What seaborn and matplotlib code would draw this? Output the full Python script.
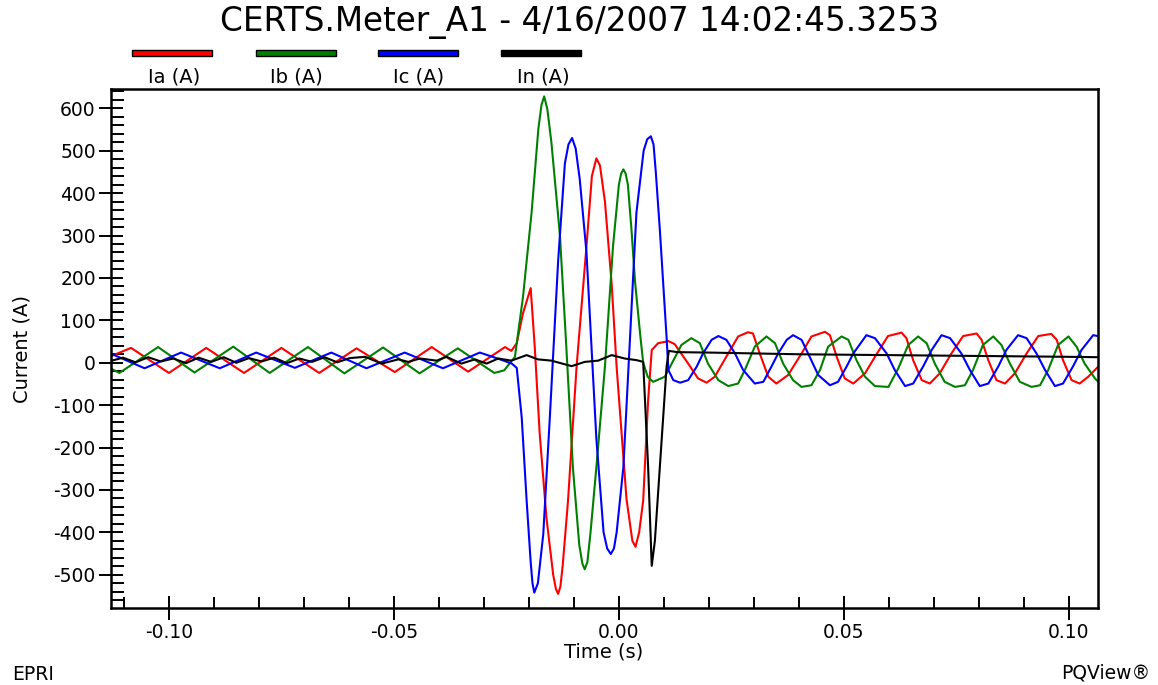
import numpy as np
import pandas as pd
import seaborn as sns
import matplotlib
matplotlib.use('Agg')
import matplotlib.pyplot as plt
from matplotlib.patches import Rectangle

title = 'CERTS.Meter_A1 - 4/16/2007 14:02:45.3253'
phases = ['Ia (A)', 'Ib (A)', 'Ic (A)', 'In (A)']
colors = ['#ff0000', '#008000', '#0000ff', '#000000']

# times in ms, currents in A
ia_t = [-113.0, -108.4, -100.0, -91.7, -83.3, -75.0, -66.6, -58.3, -49.8, -41.6, -33.5, -25.3,
        -23.9, -22.7, -21.3, -19.6, -18.7, -17.6, -16.1, -14.6, -14.0, -13.5, -13.0, -12.5, -11.3,
        -9.4, -7.2, -6.0, -5.0, -4.2, -3.1, -1.6, -0.5, 1.7, 3.0, 3.7, 4.5, 5.4, 6.5, 7.3, 8.7,
        11.0, 12.4, 15.4, 17.6, 19.5, 21.3, 24.3, 26.5, 28.7, 29.8, 31.3, 33.2, 35.0, 37.6, 40.6,
        42.8, 45.8, 46.9, 48.4, 50.2, 52.1, 54.7, 56.9, 59.8, 62.8, 63.9, 65.4, 67.3, 69.1, 71.3,
        73.9, 76.5, 79.5, 80.6, 82.1, 83.9, 85.8, 88.0, 90.6, 93.2, 96.1, 97.3, 98.7, 100.6,
        102.4, 104.3, 106.9]
ia_v = [15, 35, -24, 35, -24, 35, -24, 34, -22, 37, -21, 37,
        28, 46, 117, 176, 38, -167, -365, -500, -533, -545, -528, -480, -325,
        -9, 275, 440, 482, 465, 380, 185, -10, -322, -420, -434, -400, -325, -88, 30, 46,
        51, 44, -2, -37, -47, -33, 22, 62, 72, 69, 22, -33, -49, -29, 22,
        62, 73, 65, 14, -37, -49, -25, 14, 63, 71, 58, 6, -41, -49, -25,
        22, 63, 69, 54, 6, -41, -49, -25, 22, 63, 68, 54, 6, -41,
        -49, -33, -5]

ib_t = [-113.0, -111.0, -102.4, -94.3, -85.7, -77.6, -69.1, -61.0, -52.4, -44.3, -35.8, -27.7,
        -25.5, -23.1, -21.3, -19.4, -17.9, -17.2, -16.6, -15.9, -15.0, -13.1, -11.8, -10.2, -8.8,
        -8.1, -7.6, -7.0, -6.3, -5.0, -3.1, -1.3, 0.0, 0.5, 1.0, 1.5, 2.0, 2.8, 3.6, 4.7, 5.4,
        6.4, 7.6, 10.2, 11.4, 13.9, 16.1, 18.0, 19.8, 22.1, 24.3, 26.5, 28.0, 30.2, 32.8, 34.7,
        36.5, 38.7, 40.6, 42.8, 44.7, 46.5, 49.5, 51.0, 52.8, 54.7, 56.9, 59.9, 62.1, 64.3, 66.5,
        68.4, 70.2, 72.4, 74.7, 76.9, 78.7, 80.9, 83.2, 85.0, 86.9, 89.1, 91.7, 93.6, 95.4, 97.6,
        99.9, 101.7, 103.5, 105.8, 106.9]
ib_v = [-13, -24, 37, -23, 38, -24, 37, -25, 36, -25, 34, -24,
        -18, 14, 156, 354, 551, 608, 628, 598, 520, 300, 60, -250, -430,
        -474, -487, -470, -400, -246, -9, 275, 420, 446, 456, 446, 420, 314, 190, 70, 0,
        -33, -45, -33, -9, 42, 58, 46, -2, -41, -55, -49, -17, 38, 62, 46,
        -2, -41, -57, -53, -17, 38, 62, 54, 6, -33, -55, -57, -13, 42, 62,
        46, -2, -45, -57, -53, -17, 42, 62, 42, -2, -45, -57, -53, -17, 42,
        62, 38, -2, -37, -49]

ic_t = [-113.0, -105.4, -97.3, -88.7, -80.6, -72.0, -63.9, -56.1, -47.6, -39.1, -30.9, -26.4,
        -23.8, -22.7, -21.6, -20.5, -19.6, -19.2, -18.8, -18.0, -16.8, -15.3, -13.5, -12.0, -11.2,
        -10.4, -9.6, -8.7, -7.2, -5.0, -3.4, -2.6, -1.8, -1.1, -0.5, 1.0, 3.9, 5.5, 6.3, 7.1, 7.7,
        8.2, 9.1, 10.6, 11.0, 12.1, 13.6, 15.4, 17.3, 18.7, 20.6, 22.1, 23.9, 25.8, 27.6, 30.2,
        32.1, 33.9, 35.4, 37.3, 38.7, 40.6, 42.4, 44.3, 46.9, 48.7, 50.6, 52.1, 55.0, 56.9, 59.5,
        61.3, 63.6, 65.4, 67.6, 69.5, 71.7, 73.6, 76.1, 78.0, 80.2, 82.1, 84.3, 86.1, 88.7, 90.6,
        92.8, 94.7, 96.9, 98.7, 100.9, 102.8, 105.4, 106.9]
ic_v = [22, -13, 24, -13, 24, -12, 24, -13, 24, -13, 24, 8,
        -2, -12, -128, -325, -470, -520, -542, -520, -404, -120, 240, 470, 515,
        530, 505, 433, 260, -180, -400, -438, -451, -438, -400, -246, 354, 500, 527, 534, 515,
        450, 314, 60, -17, -41, -47, -41, -9, 22, 54, 63, 54, 22, -17, -49,
        -45, -9, 22, 54, 65, 54, 14, -29, -53, -45, -9, 22, 65, 58, 22,
        -17, -55, -49, -9, 30, 65, 58, 22, -17, -55, -49, -9, 30, 65, 58,
        22, -17, -55, -49, -9, 30, 65, 62]

in_t = [-113.0, -110.2, -107.4, -104.6, -101.8, -99.0, -96.2, -93.4, -90.6, -87.8, -85.0, -82.2,
        -79.4, -76.6, -73.8, -71.0, -68.2, -65.4, -62.6, -59.8, -56.4, -52.7, -49.0, -46.8, -44.2,
        -40.5, -38.3, -35.0, -32.0, -29.4, -26.8, -23.9, -20.5, -18.0, -15.0, -10.5, -7.6, -4.6,
        -1.6, 1.3, 4.0, 5.4, 6.5, 7.3, 8.0, 9.1, 10.6, 11.1, 13.0, 20.0, 30.0, 40.0, 50.0, 60.0,
        70.0, 80.0, 90.0, 100.0, 106.9]
in_v = [4, 12, 1, 13, 3, 10, -1, 12, 2, 13, 0, 11,
        3, 12, -1, 10, 2, 13, 1, 11, 14, -2, 8, 2, 10,
        5, 14, -2, 8, -2, 10, 5, 18, 8, 5, -8, 2, 5,
        18, 10, 6, 2, -246, -479, -420, -246, -9, 28, 25, 24, 22, 20, 19, 18,
        17, 16, 15, 14, 13]

x_ticks = [-0.10, -0.05, 0.00, 0.05, 0.10]
x_tick_labels = ['-0.10', '-0.05', '0.00', '0.05', '0.10']
y_ticks = [-500, -400, -300, -200, -100, 0, 100, 200, 300, 400, 500, 600]

series = [ia_t, ib_t, ic_t, in_t]
values = [ia_v, ib_v, ic_v, in_v]
frames = []
for name, t, v in zip(phases, series, values):
    frames.append(pd.DataFrame({'Time (s)': np.array(t) / 1000.0, 'Current (A)': v, 'phase': name}))
df = pd.concat(frames, ignore_index=True)

sns.set_theme(style='white')
plt.rcParams['font.family'] = ['DejaVu Sans']
plt.rcParams['axes.unicode_minus'] = False
plt.rcParams['text.color'] = 'black'
plt.rcParams['axes.labelcolor'] = 'black'

W, H = 1158, 685
fig = plt.figure(figsize=(W / 100, H / 100), dpi=100)
ax = fig.add_axes([110.7 / W, 1 - 608.3 / H, 986.8 / W, 519.3 / H])

sns.lineplot(data=df, x='Time (s)', y='Current (A)', hue='phase', hue_order=phases,
             palette=dict(zip(phases, colors)), estimator=None, sort=False,
             linewidth=1.5, legend=False, ax=ax)

ax.set_xlim(-0.11293, 0.10636)
ax.set_ylim(-579, 645.5)
ax.set_xticks(x_ticks)
ax.set_xticklabels(x_tick_labels)
ax.set_yticks(y_ticks)
ax.set_yticklabels([str(v) for v in y_ticks])
ax.set_xticks(np.round(np.arange(-0.11, 0.105, 0.01), 2), minor=True)
ax.set_yticks(np.arange(-560, 645, 20), minor=True)

for s in ax.spines.values():
    s.set_color('black')
    s.set_linewidth(1.8)
ax.tick_params(which='major', direction='inout', length=17.5, width=1.4, color='black',
               labelsize=13.5, labelcolor='black', pad=2, bottom=True, left=True,
               top=False, right=False)
ax.tick_params(axis='x', which='minor', direction='in', length=7.7, width=1.4,
               color='black', bottom=True, top=False)
ax.tick_params(axis='y', which='minor', direction='in', length=9.6, width=1.4,
               color='black', left=True, right=False)

ax.set_xlabel('Time (s)', fontsize=14, color='black')
ax.xaxis.set_label_coords(0.5, -0.066)
ax.set_ylabel('Current (A)', fontsize=14, color='black')
ax.yaxis.set_label_coords(-0.080, 0.5)

fig.text(579.5 / W, 1 - 22.5 / H, title, ha='center', va='center', fontsize=23.5,
         color='black')

# legend row: coloured bars above their labels
bar_x = [132, 256, 378, 501]
label_x = [174, 296.6, 419, 543.5]
for bx, lx, name, c in zip(bar_x, label_x, phases, colors):
    fig.add_artist(Rectangle((bx / W, 1 - 56 / H), 80 / W, 6 / H, transform=fig.transFigure,
                             facecolor=c, edgecolor='black', linewidth=1))
    fig.text(lx / W, 1 - 76.7 / H, name, ha='center', va='center', fontsize=14,
             color='black')

fig.text(12 / W, 1 - 674 / H, 'EPRI', ha='left', va='center', fontsize=13.5, color='black')
fig.text(1150 / W, 1 - 673 / H, 'PQView\u00ae', ha='right', va='center', fontsize=13.5,
         color='black')

fig.savefig('out.png', dpi=100)
